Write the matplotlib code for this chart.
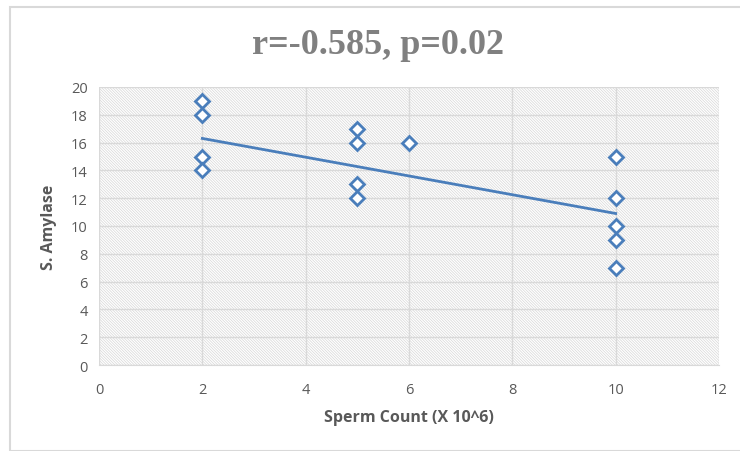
import numpy as np
import matplotlib.pyplot as plt
from matplotlib.patches import Rectangle

# data
count = [2, 2, 2, 2, 5, 5, 5, 5, 6, 10, 10, 10, 10, 10]
amylase = [19, 18, 15, 14, 17, 16, 13, 12, 16, 15, 12, 10, 9, 7]
trend_x = [2, 10]
trend_y = [16.3, 10.9]
xticks = [0, 2, 4, 6, 8, 10, 12]
yticks = [0, 2, 4, 6, 8, 10, 12, 14, 16, 18, 20]

plt.rcParams['hatch.linewidth'] = 0.5
plt.rcParams['font.family'] = ['Open Sans', 'DejaVu Sans']

fig = plt.figure(figsize=(7.4, 4.52), dpi=100)
fig.patches.append(Rectangle((10/740, 0), 1, 1 - 8/452, transform=fig.transFigure,
                             fill=False, ec='#d9d9d9', lw=1.5))
ax = fig.add_axes([99/740, 1 - 366/452, 620/740, 278/452])

# fine diagonal hatch behind the plot
ax.add_patch(Rectangle((0, 0), 1, 1, transform=ax.transAxes, fill=False,
                       hatch='\\' * 12, ec='#d6d6d6', lw=0, zorder=0))
ax.set_xlim(0, 12)
ax.set_ylim(0, 20)
ax.set_xticks(xticks)
ax.set_yticks(yticks)
ax.grid(True, color='#d9d9d9', lw=1)
ax.set_axisbelow(True)
for s in ax.spines.values():
    s.set_visible(False)
ax.spines['bottom'].set_visible(True)
ax.spines['bottom'].set_color('#d9d9d9')
ax.tick_params(length=0, colors='#595959', labelsize=10.5)
ax.tick_params(axis='x', pad=12)
ax.tick_params(axis='y', pad=8)

ax.plot(trend_x, trend_y, color='#4a7ebb', lw=2, zorder=3)
ax.plot(count, amylase, ls='none', marker='D', ms=7.5, mfc='white', mec='#4a7ebb',
        mew=2, zorder=4)

ax.set_xlabel('Sperm Count (X 10^6)', fontsize=11.5, fontweight='bold', color='#595959', labelpad=9)
ax.set_ylabel('S. Amylase', fontsize=11.5, fontweight='bold', color='#595959', labelpad=10)
fig.text(378/740, 1 - 45/452, 'r=-0.585, p=0.02', ha='center', va='center',
         fontsize=26, fontweight='bold', color='#808080', family='Liberation Serif')

fig.savefig('out.png', dpi=100)
